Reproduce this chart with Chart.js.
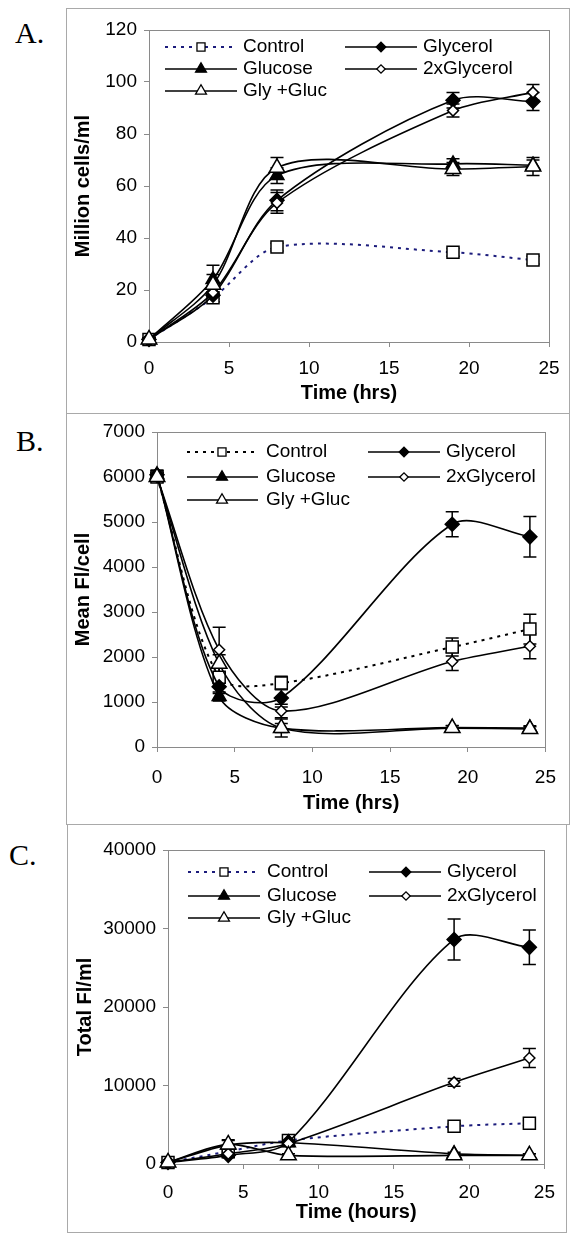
<!DOCTYPE html>
<html>
<head>
<meta charset="utf-8">
<script src="https://cdn.jsdelivr.net/npm/chart.js@4.4.1/dist/chart.umd.min.js"></script>
<style>
  body { margin: 0; background: #fff; width: 577px; height: 1242px; position: relative; overflow: hidden; }
  .frame { position: absolute; box-sizing: border-box; border: 1px solid #a9a9a9; }
  canvas { position: absolute; }
  .tag { position: absolute; font: 30px/30px "Liberation Serif", "Times New Roman", serif; color: #000; }
</style>
</head>
<body>
<div class="frame" style="left:66px;top:8px;width:504px;height:406px"></div>
<div class="frame" style="left:66px;top:413px;width:504px;height:412px"></div>
<div class="frame" style="left:67px;top:824px;width:500px;height:409px"></div>
<div class="tag" style="left:15px;top:18px">A.</div>
<div class="tag" style="left:16px;top:426px">B.</div>
<div class="tag" style="left:9px;top:840px">C.</div>
<canvas id="chartA" width="504" height="406" style="left:66px;top:8px;width:504px;height:406px"></canvas>
<canvas id="chartB" width="504" height="412" style="left:66px;top:413px;width:504px;height:412px"></canvas>
<canvas id="chartC" width="500" height="409" style="left:67px;top:824px;width:500px;height:409px"></canvas>
<script>
const seriesNames = ['Control', 'Glycerol', 'Glucose', '2xGlycerol', 'Gly +Gluc'];
const hours = [0, 4, 8, 19, 24];
const xTicks = [0, 5, 10, 15, 20, 25];

// A. Million cells/ml
const cellsTicks = [0, 20, 40, 60, 80, 100, 120];
const cellsControl = [1, 17, 36.5, 34.5, 31.5];
const cellsGlycerol = [1, 18, 54.5, 93, 92.5];
const cellsGlucose = [1, 24, 64, 68.5, 68];
const cells2xGlycerol = [1, 19, 53.5, 89, 96];
const cellsGlyGluc = [1, 22, 67, 66.5, 67.5];
const cellsErrControl = [0.5, 1.5, 1.5, 1.5, 1.5];
const cellsErrGlycerol = [0.5, 2.5, 4, 3, 3.5];
const cellsErrGlucose = [0.5, 5.5, 3, 2, 2];
const cellsErr2xGlycerol = [0.5, 2.5, 4, 2.5, 3];
const cellsErrGlyGluc = [0.5, 4, 4, 2.5, 3.5];

// B. Mean Fl/cell
const meanTicks = [0, 1000, 2000, 3000, 4000, 5000, 6000, 7000];
const meanControl = [6000, 1550, 1420, 2220, 2620];
const meanGlycerol = [6050, 1340, 1090, 4950, 4670];
const meanGlucose = [6050, 1120, 420, 430, 420];
const mean2xGlycerol = [6000, 2160, 800, 1900, 2240];
const meanGlyGluc = [6000, 1850, 420, 420, 400];
const meanErrControl = [100, 200, 150, 200, 330];
const meanErrGlycerol = [100, 150, 200, 280, 450];
const meanErrGlucose = [100, 100, 100, 50, 50];
const meanErr2xGlycerol = [100, 500, 150, 200, 280];
const meanErrGlyGluc = [100, 200, 200, 50, 50];

// C. Total Fl/ml
const totalTicks = [0, 10000, 20000, 30000, 40000];
const totalControl = [200, 1600, 3000, 4800, 5200];
const totalGlycerol = [200, 1100, 2800, 28600, 27600];
const totalGlucose = [200, 2400, 2700, 1300, 1100];
const total2xGlycerol = [200, 1300, 2600, 10400, 13500];
const totalGlyGluc = [200, 2500, 1100, 1100, 1100];
const totalErrControl = [100, 300, 500, 300, 300];
const totalErrGlycerol = [100, 300, 500, 2600, 2200];
const totalErrGlucose = [100, 600, 300, 200, 200];
const totalErr2xGlycerol = [100, 300, 300, 500, 1200];
const totalErrGlyGluc = [100, 600, 200, 200, 200];

const font = '"Liberation Sans", Arial, sans-serif';
const markers = [
  { shape: 'rect', r: 8.5, fill: '#fff', legendR: 5.7 },
  { shape: 'rectRot', r: 7, fill: '#000', legendR: 4.8 },
  { shape: 'triangle', r: 8, fill: '#000', legendR: 6.3 },
  { shape: 'rectRot', r: 5.5, fill: '#fff', legendR: 4.2 },
  { shape: 'triangle', r: 9, fill: '#fff', legendR: 6.3 }
];
// legend slot [column, row] for each series
const legendSlots = [[0, 0], [1, 0], [0, 1], [1, 1], [0, 2]];

const plotBox = {
  id: 'plotBox',
  beforeDatasetsDraw(chart) {
    const { ctx, chartArea: a } = chart;
    ctx.save();
    ctx.strokeStyle = '#8a8a8a';
    ctx.lineWidth = 1;
    ctx.strokeRect(Math.round(a.left) + 0.5, Math.round(a.top) + 0.5, Math.round(a.right - a.left), Math.round(a.bottom - a.top));
    ctx.restore();
  }
};

const errorBars = {
  id: 'errorBars',
  beforeDatasetsDraw(chart) {
    const { ctx, scales: { x, y } } = chart;
    ctx.save();
    ctx.strokeStyle = '#000';
    ctx.lineWidth = 1.5;
    chart.data.datasets.forEach(ds => {
      ds.data.forEach((p, i) => {
        const e = ds.errors[i];
        const px = x.getPixelForValue(p.x);
        const top = y.getPixelForValue(p.y + e);
        const bot = y.getPixelForValue(Math.max(p.y - e, y.min));
        ctx.beginPath();
        ctx.moveTo(px, top); ctx.lineTo(px, bot);
        ctx.moveTo(px - 6.5, top); ctx.lineTo(px + 6.5, top);
        ctx.moveTo(px - 6.5, bot); ctx.lineTo(px + 6.5, bot);
        ctx.stroke();
      });
    });
    ctx.restore();
  }
};

const insideLegend = {
  id: 'insideLegend',
  afterDraw(chart, args, opts) {
    const ctx = chart.ctx;
    ctx.save();
    ctx.font = '19px ' + font;
    ctx.textBaseline = 'middle';
    chart.data.datasets.forEach((ds, i) => {
      const col = opts.cols[legendSlots[i][0]];
      const y = opts.rows[legendSlots[i][1]];
      ctx.strokeStyle = ds.borderColor;
      ctx.lineWidth = ds.borderWidth;
      ctx.setLineDash(ds.borderDash);
      ctx.beginPath(); ctx.moveTo(col.x0, y); ctx.lineTo(col.x1, y); ctx.stroke();
      ctx.setLineDash([]);
      ctx.fillStyle = ds.pointBackgroundColor;
      ctx.strokeStyle = '#000';
      ctx.lineWidth = 1.3;
      Chart.helpers.drawPoint(ctx, { pointStyle: ds.pointStyle, radius: markers[i].legendR, rotation: 0, borderWidth: 1.3 }, col.m, y);
      ctx.fillStyle = '#000';
      ctx.fillText(ds.label, col.t, y);
    });
    ctx.restore();
  }
};

function buildPanel(p) {
  const datasets = p.values.map((vals, i) => ({
    label: seriesNames[i],
    data: hours.map((h, k) => ({ x: h, y: vals[k] })),
    errors: p.errors[i],
    order: 4 - i,
    borderColor: i === 0 ? p.controlColor : '#000',
    borderWidth: i === 0 ? 2 : 1.6,
    borderDash: i === 0 ? [3, 5] : [],
    pointStyle: markers[i].shape,
    pointRadius: markers[i].r,
    pointBorderWidth: 1.5,
    pointBackgroundColor: markers[i].fill,
    pointBorderColor: '#000',
    tension: 0.3,
    clip: false,
    fill: false
  }));

  new Chart(document.getElementById(p.id), {
    type: 'line',
    data: { datasets },
    options: {
      responsive: false,
      animation: false,
      layout: { padding: { top: p.padTop, right: p.padRight, left: 0, bottom: 0 } },
      plugins: {
        legend: { display: false },
        tooltip: { enabled: false },
        insideLegend: p.legend
      },
      scales: {
        x: {
          type: 'linear', min: 0, max: 25,
          afterBuildTicks: s => { s.ticks = xTicks.map(v => ({ value: v })); },
          afterFit: s => { s.height = p.xAxisH; },
          ticks: { font: { size: 19, family: font }, color: '#000', padding: p.xTickPad, maxRotation: 0, autoSkip: false, callback: v => String(v) },
          grid: { drawOnChartArea: false, color: '#8a8a8a', tickLength: 5 },
          border: { color: '#8a8a8a' },
          title: { display: true, text: p.xTitle, color: '#000', font: { size: 20, weight: 'bold', family: font }, padding: { top: 0, bottom: p.xTitlePad } }
        },
        y: {
          min: 0, max: p.yTicks[p.yTicks.length - 1],
          afterBuildTicks: s => { s.ticks = p.yTicks.map(v => ({ value: v })); },
          afterFit: s => { s.width = p.yAxisW; },
          ticks: { font: { size: 19, family: font }, color: '#000', padding: 7, callback: v => String(v) },
          grid: { drawOnChartArea: false, color: '#8a8a8a', tickLength: 5 },
          border: { color: '#8a8a8a' },
          title: { display: true, text: p.yTitle, color: '#000', font: { size: 20, weight: 'bold', family: font }, padding: { top: p.yTitlePad, bottom: 0 } }
        }
      }
    },
    plugins: [plotBox, errorBars, insideLegend]
  });
}

buildPanel({
  id: 'chartA',
  values: [cellsControl, cellsGlycerol, cellsGlucose, cells2xGlycerol, cellsGlyGluc],
  errors: [cellsErrControl, cellsErrGlycerol, cellsErrGlucose, cellsErr2xGlycerol, cellsErrGlyGluc],
  yTicks: cellsTicks, controlColor: '#1c1c7c',
  yTitle: 'Million cells/ml', xTitle: 'Time (hrs)',
  yAxisW: 83, xAxisH: 72, padTop: 22, padRight: 21,
  xTickPad: 10, xTitlePad: 9, yTitlePad: 5,
  legend: { rows: [39, 61, 83], cols: [{ x0: 99, x1: 171, m: 135, t: 177 }, { x0: 279, x1: 351, m: 315, t: 357 }] }
});

buildPanel({
  id: 'chartB',
  values: [meanControl, meanGlycerol, meanGlucose, mean2xGlycerol, meanGlyGluc],
  errors: [meanErrControl, meanErrGlycerol, meanErrGlucose, meanErr2xGlycerol, meanErrGlyGluc],
  yTicks: meanTicks, controlColor: '#000',
  yTitle: 'Mean Fl/cell', xTitle: 'Time (hrs)',
  yAxisW: 91, xAxisH: 78, padTop: 19, padRight: 19,
  xTickPad: 14, xTitlePad: 10, yTitlePad: 5,
  legend: { rows: [39, 64, 87], cols: [{ x0: 121, x1: 192, m: 156, t: 200 }, { x0: 302, x1: 374, m: 338, t: 380 }] }
});

buildPanel({
  id: 'chartC',
  values: [totalControl, totalGlycerol, totalGlucose, total2xGlycerol, totalGlyGluc],
  errors: [totalErrControl, totalErrGlycerol, totalErrGlucose, totalErr2xGlycerol, totalErrGlyGluc],
  yTicks: totalTicks, controlColor: '#1c1c7c',
  yTitle: 'Total Fl/ml', xTitle: 'Time (hours)',
  yAxisW: 101, xAxisH: 69, padTop: 26, padRight: 14,
  xTickPad: 12, xTitlePad: 9, yTitlePad: 6,
  legend: { rows: [48, 72, 94], cols: [{ x0: 121, x1: 193, m: 157, t: 200 }, { x0: 302, x1: 374, m: 339, t: 380 }] }
});
</script>
</body>
</html>
